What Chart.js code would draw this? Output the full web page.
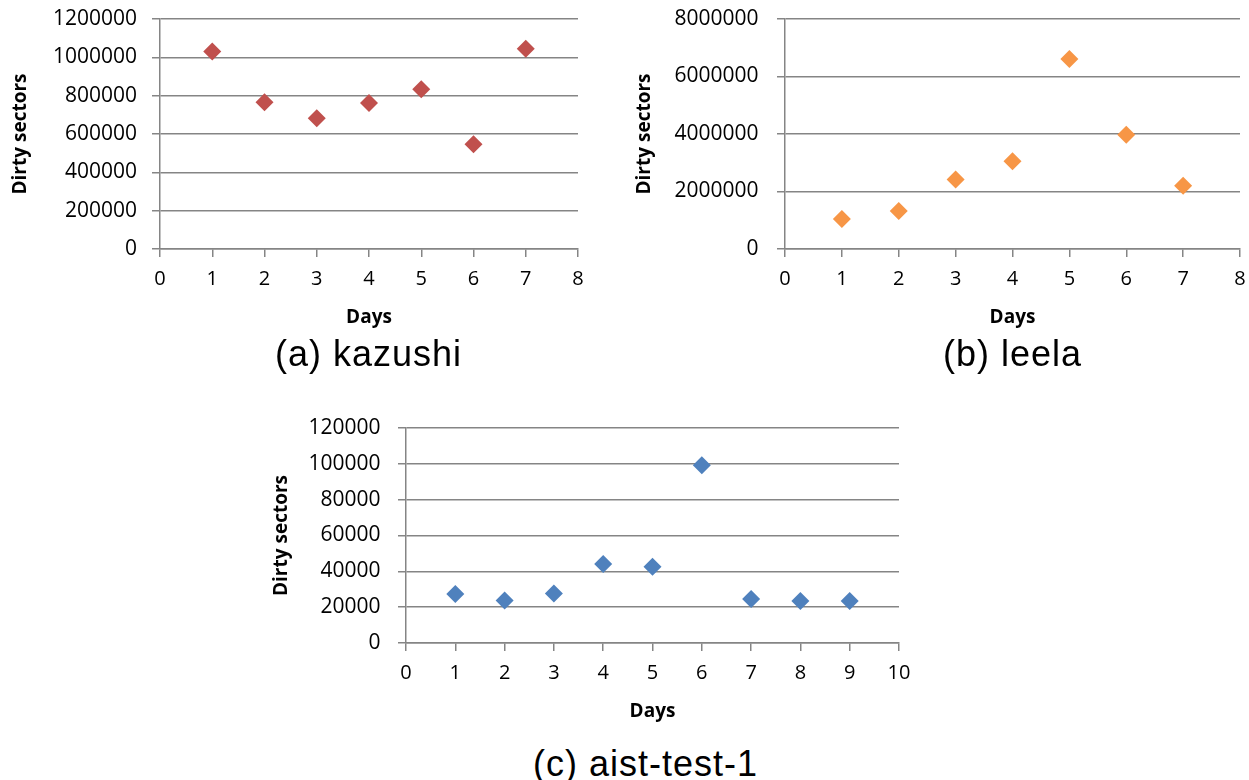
<!DOCTYPE html>
<html>
<head>
<meta charset="utf-8">
<script src="https://cdn.jsdelivr.net/npm/chart.js@4.4.1/dist/chart.umd.min.js"></script>
<style>
  html, body { margin: 0; padding: 0; background: #ffffff; }
  body { width: 1249px; height: 780px; position: relative; overflow: hidden; }
  canvas { position: absolute; }
  .cap { position: absolute; font-family: 'Liberation Sans', Arial, sans-serif; font-size: 36px; line-height: 36px; letter-spacing: 1px; color: #000; white-space: nowrap; }
</style>
</head>
<body>
<canvas id="chartA" width="600" height="340" style="left:0px;top:0px;"></canvas>
<canvas id="chartB" width="629" height="340" style="left:620px;top:0px;"></canvas>
<canvas id="chartC" width="680" height="330" style="left:250px;top:400px;"></canvas>
<div class="cap" id="capA" style="left:275px;top:336px;">(a) kazushi</div>
<div class="cap" id="capB" style="left:943px;top:336px;">(b) leela</div>
<div class="cap" id="capC" style="left:533px;top:746px;">(c) aist-test-1</div>
<script>
// ---- data ----
const kazushiDays = [1, 2, 3, 4, 5, 6, 7];
const kazushiSectors = [1030000, 766000, 682000, 762000, 834000, 546000, 1045000];

const leelaDays = [1, 2, 3, 4, 5, 6, 7];
const leelaSectors = [1046000, 1325000, 2420000, 3048000, 6605000, 3976000, 2197000];

const aistDays = [1, 2, 3, 4, 5, 6, 7, 8, 9];
const aistSectors = [27400, 23700, 27600, 44100, 42500, 99200, 24500, 23400, 23400];

// axis ranges (tick labels)
const kazushiXTicks = [0, 8, 1];          // min, max, step
const kazushiYTicks = [0, 1200000, 200000];
const leelaXTicks = [0, 8, 1];
const leelaYTicks = [0, 8000000, 2000000];
const aistXTicks = [0, 10, 1];
const aistYTicks = [0, 120000, 20000];

const xTitle = 'Days';
const yTitle = 'Dirty sectors';

// ---- drawing ----
const FONT = "'Open Sans', sans-serif";
const GRID = '#858585';

function makeChart(id, days, values, color, xt, yt, L) {
  const pts = days.map((d, i) => ({ x: d, y: values[i] }));
  return new Chart(document.getElementById(id), {
    type: 'scatter',
    data: {
      datasets: [{
        data: pts,
        pointStyle: 'rectRot',
        pointRadius: 9,
        pointHoverRadius: 9,
        backgroundColor: color,
        borderColor: color,
        borderWidth: 0
      }]
    },
    options: {
      responsive: false,
      animation: false,
      devicePixelRatio: 1,
      layout: { padding: { top: L.padTop, right: L.padRight, left: 0, bottom: 0 } },
      plugins: { legend: { display: false }, tooltip: { enabled: false } },
      scales: {
        x: {
          type: 'linear',
          min: xt[0], max: xt[1],
          afterFit: s => { s.height = L.xHeight; s.paddingLeft = 0; s.paddingRight = 0; },
          ticks: { stepSize: xt[2], color: '#000', font: { family: FONT, size: 20 }, padding: 10, maxRotation: 0,
                   callback: v => String(v) },
          grid: { drawOnChartArea: false, drawTicks: true, tickLength: 8, color: GRID, lineWidth: 1.5 },
          border: { display: true, color: GRID, width: 1.5 },
          title: { display: true, text: xTitle, color: '#000', font: { family: FONT, size: 19, weight: 'bold' },
                   padding: { top: 0, bottom: L.xTitlePad } }
        },
        y: {
          type: 'linear',
          min: yt[0], max: yt[1],
          afterFit: s => { s.width = L.yWidth; s.paddingTop = 0; s.paddingBottom = 0; },
          ticks: { stepSize: yt[2], color: '#000', font: { family: FONT, size: 21 }, padding: L.yTickPad,
                   callback: v => String(v) },
          grid: { drawOnChartArea: true, drawTicks: true, tickLength: 8, color: GRID, lineWidth: 1.5 },
          border: { display: true, color: GRID, width: 1.5 },
          title: { display: true, text: yTitle, color: '#000', font: { family: FONT, size: 19, weight: 'bold' },
                   padding: { top: L.yTitlePad, bottom: 0 } }
        }
      }
    }
  });
}

makeChart('chartA', kazushiDays, kazushiSectors, '#C0504D', kazushiXTicks, kazushiYTicks,
  { padTop: 19, padRight: 22, xHeight: 91, yWidth: 160, yTickPad: 15, yTitlePad: 9.5, xTitlePad: 11 });
makeChart('chartB', leelaDays, leelaSectors, '#F79646', leelaXTicks, leelaYTicks,
  { padTop: 19, padRight: 9, xHeight: 91, yWidth: 165, yTickPad: 18.5, yTitlePad: 13.5, xTitlePad: 11 });
makeChart('chartC', aistDays, aistSectors, '#4F81BD', aistXTicks, aistYTicks,
  { padTop: 28, padRight: 31, xHeight: 87, yWidth: 156, yTickPad: 17.5, yTitlePad: 20, xTitlePad: 7 });
</script>
</body>
</html>
